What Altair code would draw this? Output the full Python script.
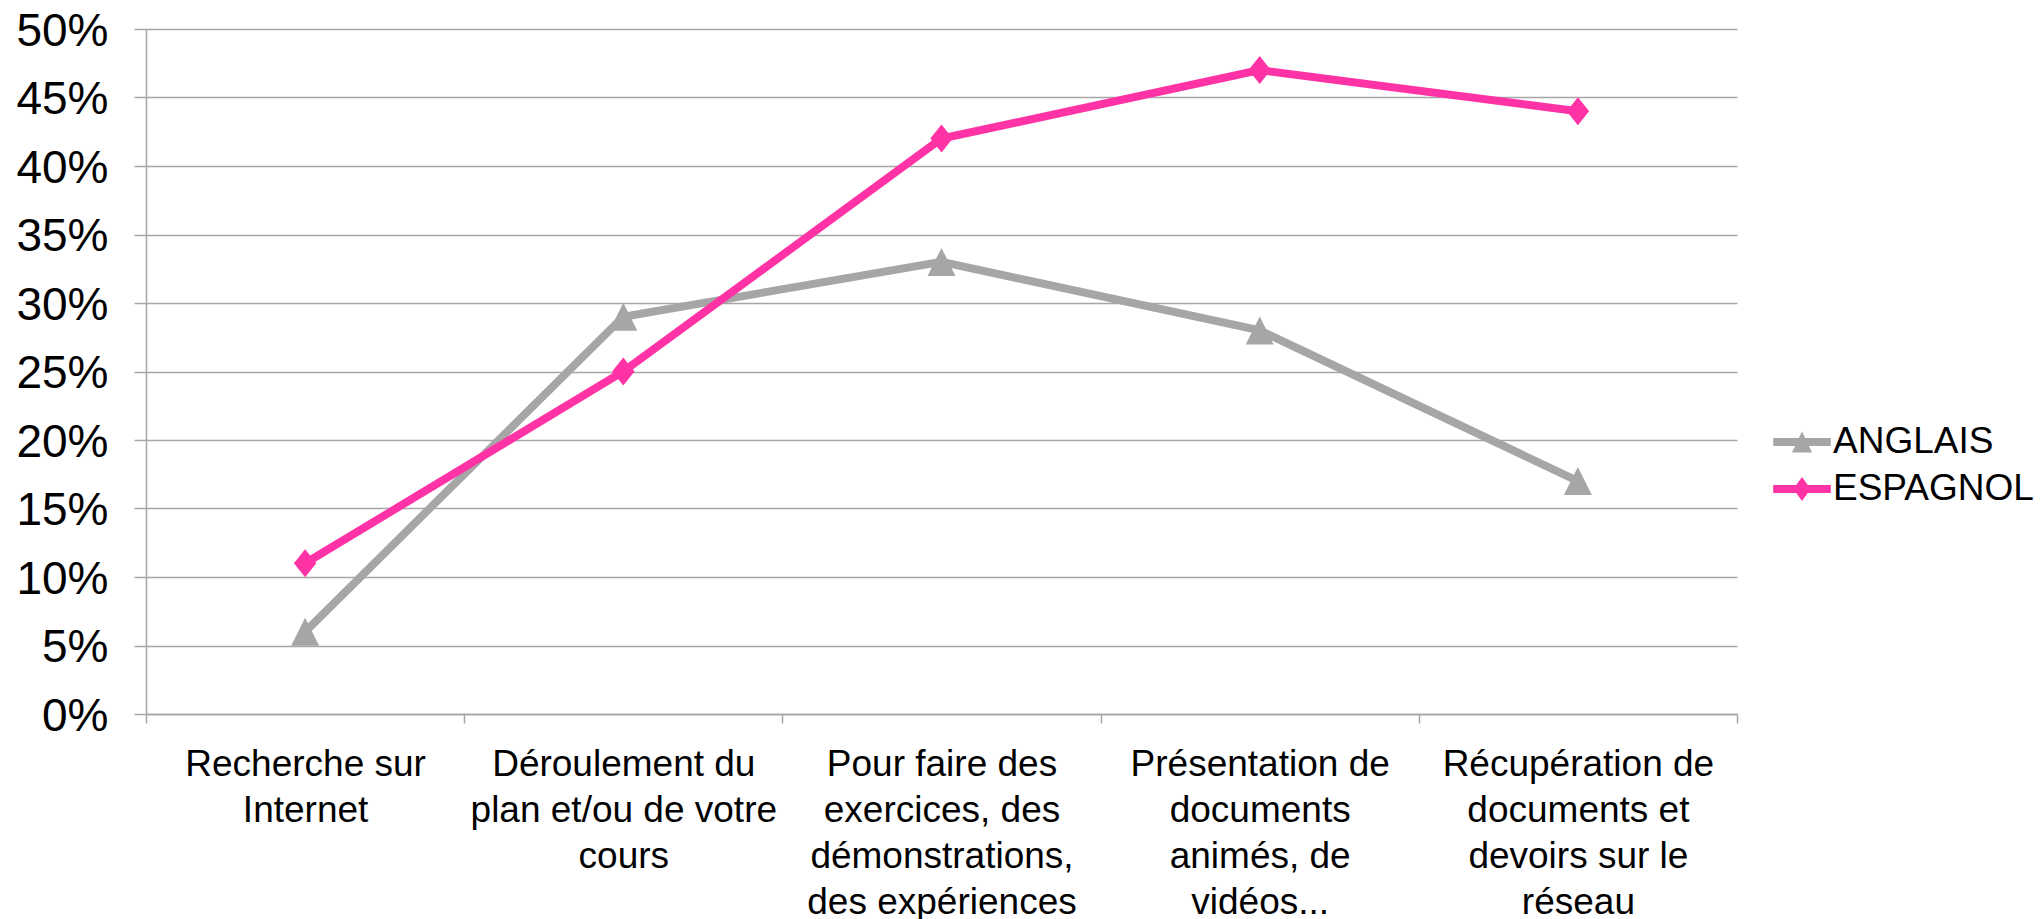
import altair as alt
import pandas as pd

categories = [
    "Recherche sur|Internet",
    "Déroulement du|plan et/ou de votre|cours",
    "Pour faire des|exercices, des|démonstrations,|des expériences",
    "Présentation de|documents|animés, de|vidéos...",
    "Récupération de|documents et|devoirs sur le|réseau",
]
series_names = ["ANGLAIS", "ESPAGNOL"]
anglais = [0.06, 0.29, 0.33, 0.28, 0.17]
espagnol = [0.11, 0.25, 0.42, 0.47, 0.44]
y_ticks = [0, 0.05, 0.10, 0.15, 0.20, 0.25, 0.30, 0.35, 0.40, 0.45, 0.50]
colors = ["#A6A6A6", "#FF33A6"]

rows = []
for name, vals in zip(series_names, [anglais, espagnol]):
    for c, v in zip(categories, vals):
        rows.append({"cat": c, "series": name, "value": v})
df = pd.DataFrame(rows)

W, H = 1591, 685
FONT = "Liberation Sans"
GRID = "#A6A6A6"

mark_paths = ["M0,-1L1,1L-1,1Z", "M0,-1L0.8,0L0,1L-0.8,0Z"]
legend_paths = [
    "M-1.2,-0.17H1.2V0.17H-1.2Z M0,-0.44L0.42,0.44L-0.42,0.44Z",
    "M-1.2,-0.17H1.2V0.17H-1.2Z M0,-0.5L0.36,0L0,0.5L-0.36,0Z",
]

x = alt.X(
    "cat:N",
    sort=categories,
    scale=alt.Scale(type="band", paddingInner=0, paddingOuter=0),
    axis=alt.Axis(
        title=None,
        labelExpr="split(datum.label, '|')",
        labelAngle=0,
        labelFont=FONT,
        labelFontSize=37,
        labelLineHeight=46,
        labelColor="black",
        labelPadding=23,
        labelBaseline="top",
        labelLimit=0,
        labelOverlap=False,
        tickBand="extent",
        tickSize=9,
        tickColor=GRID,
        tickWidth=1.5,
        domainColor=GRID,
        domainWidth=1.5,
        grid=False,
    ),
)
y = alt.Y(
    "value:Q",
    scale=alt.Scale(domain=[0, 0.5], nice=False),
    axis=alt.Axis(
        title=None,
        values=y_ticks,
        format=".0%",
        labelFont=FONT,
        labelFontSize=46,
        labelColor="black",
        labelPadding=26,
        labelOffset=2,
        tickSize=12,
        tickColor=GRID,
        tickWidth=1.5,
        domainColor=GRID,
        domainWidth=1.5,
        gridColor=GRID,
        gridWidth=1.5,
    ),
)

color_scale = alt.Scale(domain=series_names, range=colors)

lines = alt.Chart(df).mark_line(strokeWidth=8).encode(
    x=x, y=y,
    color=alt.Color("series:N", scale=color_scale, legend=None),
)

points = alt.Chart(df).mark_point(filled=True, size=784, opacity=1).encode(
    x=x, y=y,
    color=alt.Color("series:N", scale=color_scale, legend=None),
    shape=alt.Shape("series:N", scale=alt.Scale(domain=series_names, range=mark_paths), legend=None),
)

leg = alt.Legend(
    title=None,
    orient="none",
    legendX=1632,
    legendY=389,
    padding=0,
    symbolSize=2304,
    symbolStrokeWidth=0,
    labelFont=FONT,
    labelFontSize=37,
    labelColor="black",
    labelOffset=7,
    rowPadding=5,
    labelLimit=0,
)

legend_layer = alt.Chart(df).transform_filter("false").mark_point(filled=True, opacity=1).encode(
    x=x, y=y,
    color=alt.Color("series:N", scale=alt.Scale(domain=series_names, range=colors), legend=leg),
    shape=alt.Shape("series:N", scale=alt.Scale(domain=series_names, range=legend_paths), legend=leg),
)

chart = (
    alt.layer(lines, points, legend_layer)
    .resolve_scale(color="independent", shape="independent")
    .properties(
        width=W,
        height=H,
        padding={"left": 138, "top": 21, "right": 297, "bottom": 240},
        autosize=alt.AutoSizeParams(type="none"),
    )
    .configure_view(stroke=None)
)

chart.save("out.html", embed_options={"renderer": "svg", "actions": False})
